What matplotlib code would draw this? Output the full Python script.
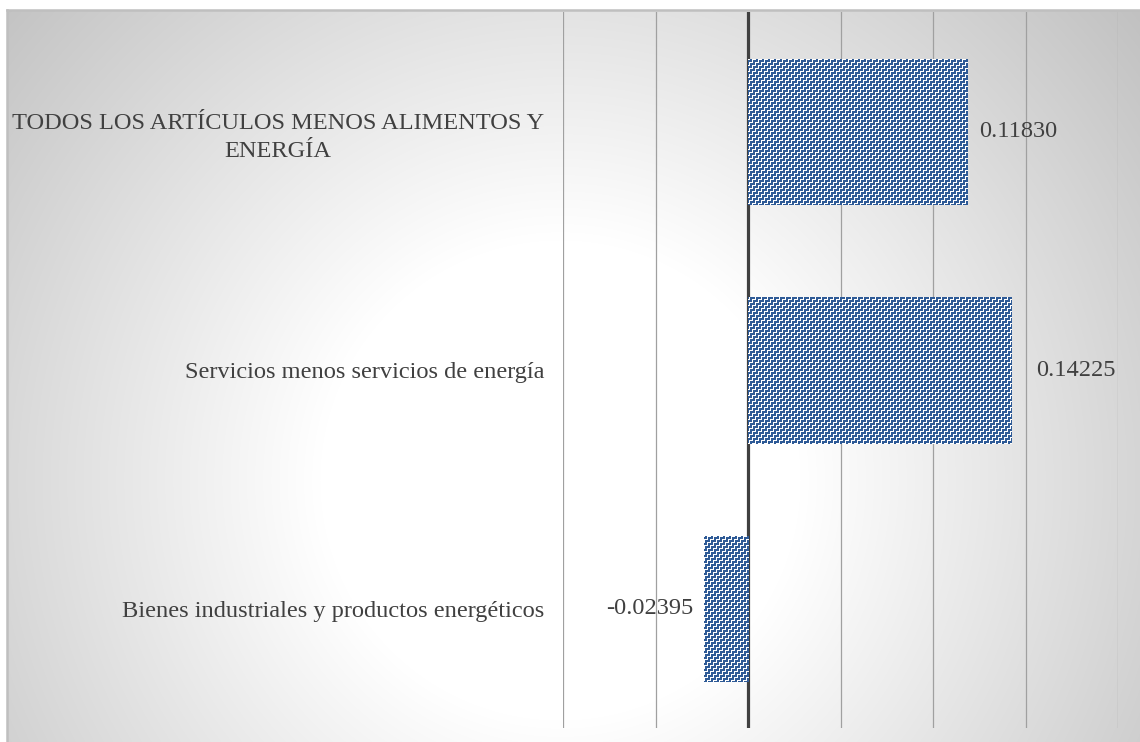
import numpy as np
import matplotlib.pyplot as plt

# Data
categories = ["Bienes industriales y productos energéticos",
              "Servicios menos servicios de energía",
              "TODOS LOS ARTÍCULOS MENOS ALIMENTOS Y\nENERGÍA"]
values = [-0.02395, 0.14225, 0.11830]
x_ticks = [-0.10, -0.05, 0.0, 0.05, 0.10, 0.15, 0.20]

W, H, DPI = 1140, 742, 100
plt.rcParams['font.family'] = ['Liberation Serif', 'DejaVu Serif']
txt_col = '#404040'
bar_col = np.array([0x2E, 0x5A, 0x96]) / 255.0
fs = 17.6

fig = plt.figure(figsize=(W / DPI, H / DPI), dpi=DPI, facecolor='white')

# background box with radial gradient
bx0, by0 = 7, 10
bg = fig.add_axes([bx0 / W, 0, (W - bx0) / W, (H - by0) / H], zorder=0)
xx, yy = np.meshgrid(np.arange(bx0, W), np.arange(by0, H))
r = np.hypot(xx - 560, yy - 480)
v = 1 - 0.24 * np.clip((r - 240) / 500, 0, 1)
bg.imshow(np.dstack([v, v, v]), aspect='auto', interpolation='bilinear',
          extent=(0, 1, 0, 1))
bg.set_xlim(0, 1)
bg.set_ylim(0, 1)
bg.set_xticks([])
bg.set_yticks([])
for s in ['right', 'bottom']:
    bg.spines[s].set_visible(False)
for s in ['top', 'left']:
    bg.spines[s].set_color('#bfbfbf')
    bg.spines[s].set_linewidth(1.8)

# main plot area
px0, px1, py0, py1 = 563, 1118, 12, 728
ax = fig.add_axes([px0 / W, 1 - py1 / H, (px1 - px0) / W, (py1 - py0) / H], zorder=1)
ax.set_facecolor('none')

y = np.arange(len(categories))
bars = ax.barh(y, values, height=0.61, color=bar_col, zorder=2)

ax.set_xlim(x_ticks[0], x_ticks[-1])
ax.set_ylim(-0.5, len(categories) - 0.5)

# weave-like pattern fill, pixel aligned, clipped to each bar
gx, gy = np.meshgrid(np.arange(W), np.arange(H))
gap = (gx % 3 == 2) | (gy % 3 == 2)
white = gap & (((gx // 3) + (gy // 3)) % 2 == 0)
white |= (gx % 3 == 2) & (gy % 3 == 2)
tex = np.ones((H, W, 3))
tex[~white] = bar_col
for b in bars:
    im = fig.figimage(tex, xo=0, yo=0, origin='upper', zorder=3)
    im.set_clip_path(b)

ax.set_xticks(x_ticks)
ax.set_xticklabels([])
ax.grid(axis='x', color='#a0a0a0', linewidth=0.9, zorder=1)
ax.axvline(0, color='#404040', linewidth=2.3, zorder=4)
ax.tick_params(length=0)
for s in ax.spines.values():
    s.set_visible(False)

ax.set_yticks(y)
ax.set_yticklabels(categories, fontsize=fs, color=txt_col)
ax.tick_params(axis='y', pad=13.5)
for t in ax.get_yticklabels():
    t.set_multialignment('center')
    t.set_linespacing(1.45)

# value labels (pixel offsets from the bar end)
offsets_px = [-10, 25, 12]
for yi, val, off in zip(y, values, offsets_px):
    ax.annotate(f"{val:.5f}", (val, yi), xytext=(off * 0.72, 0),
                textcoords='offset points', va='center',
                ha='right' if val < 0 else 'left',
                fontsize=fs, color=txt_col, zorder=5)

fig.savefig('out.png', dpi=DPI, facecolor='white')
